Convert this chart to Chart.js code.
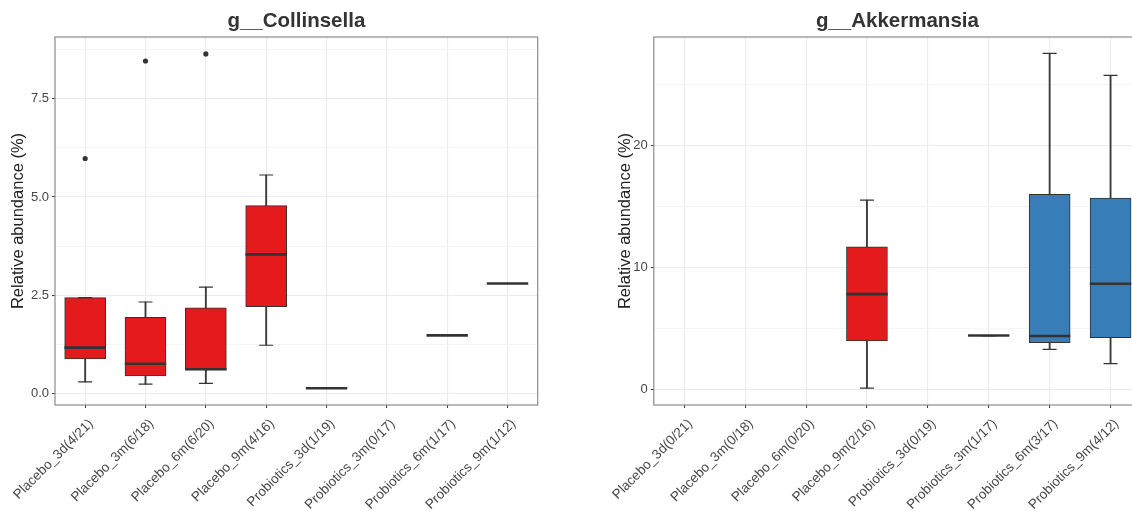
<!DOCTYPE html>
<html>
<head>
<meta charset="utf-8">
<script src="https://cdn.jsdelivr.net/npm/chart.js@4.4.0/dist/chart.umd.min.js"></script>
<style>
  html, body { margin: 0; padding: 0; background: #fff; overflow: hidden; }
  body { width: 1132px; height: 511px; position: relative; }
  .panel { position: absolute; top: 0; height: 511px; }
  #leftPanel { left: 0; width: 566px; }
  #rightPanel { left: 566px; width: 600px; }
</style>
</head>
<body>
<div class="panel" id="leftPanel"><canvas id="collinsellaChart"></canvas></div>
<div class="panel" id="rightPanel"><canvas id="akkermansiaChart"></canvas></div>
<script>
// g__Collinsella
const collinsellaLabels = ['Placebo_3d(4/21)', 'Placebo_3m(6/18)', 'Placebo_6m(6/20)', 'Placebo_9m(4/16)',
  'Probiotics_3d(1/19)', 'Probiotics_3m(0/17)', 'Probiotics_6m(1/17)', 'Probiotics_9m(1/12)'];
const collinsellaLow = [0.30, 0.24, 0.26, 1.23, 0.135, null, 1.48, 2.80];
const collinsellaQ1 = [0.88, 0.45, 0.60, 2.21, 0.135, null, 1.48, 2.80];
const collinsellaMedian = [1.17, 0.76, 0.62, 3.54, 0.135, null, 1.48, 2.80];
const collinsellaQ3 = [2.44, 1.94, 2.18, 4.78, 0.135, null, 1.48, 2.80];
const collinsellaHigh = [2.44, 2.33, 2.71, 5.56, 0.135, null, 1.48, 2.80];
const collinsellaOutliers = [5.98, 8.46, 8.64, null, null, null, null, null];

// g__Akkermansia
const akkermansiaLabels = ['Placebo_3d(0/21)', 'Placebo_3m(0/18)', 'Placebo_6m(0/20)', 'Placebo_9m(2/16)',
  'Probiotics_3d(0/19)', 'Probiotics_3m(1/17)', 'Probiotics_6m(3/17)', 'Probiotics_9m(4/12)'];
const akkermansiaLow = [null, null, null, 0.08, null, 4.40, 3.27, 2.10];
const akkermansiaQ1 = [null, null, null, 3.95, null, 4.40, 3.82, 4.23];
const akkermansiaMedian = [null, null, null, 7.80, null, 4.40, 4.36, 8.65];
const akkermansiaQ3 = [null, null, null, 11.68, null, 4.40, 15.98, 15.69];
const akkermansiaHigh = [null, null, null, 15.52, null, 4.40, 27.55, 25.75];
const akkermansiaOutliers = [null, null, null, null, null, null, null, null];

Chart.defaults.font.family = '"Liberation Sans", Arial, Helvetica, sans-serif';

// ggplot-style panel border on all four sides
const panelBorder = {
  id: 'panelBorder',
  afterDatasetsDraw(chart) {
    const { ctx, chartArea: a } = chart;
    ctx.save();
    ctx.strokeStyle = '#8c8c8c';
    ctx.lineWidth = 1.2;
    ctx.strokeRect(a.left, a.top, a.right - a.left, a.bottom - a.top);
    ctx.restore();
  }
};

function groupColor(label) {
  return label.startsWith('Placebo') ? '#E41A1C' : '#377EB8';
}

function boxChart(canvasId, title, labels, low, q1, median, q3, high, outliers, look) {
  const isMajor = v => Math.abs(v / look.major - Math.round(v / look.major)) < 1e-6;
  const capStyle = { type: 'line', showLine: false, pointStyle: 'line', pointRadius: 7, pointHoverRadius: 7,
    pointBorderWidth: 1.2, pointBorderColor: '#333', order: 3 };

  return new Chart(document.getElementById(canvasId), {
    type: 'bar',
    data: {
      labels: labels,
      datasets: [
        { // whiskers
          data: low.map((v, i) => (v == null || v === high[i]) ? null : [v, high[i]]),
          backgroundColor: '#3a3a3a', barThickness: 1.2, grouped: false, order: 5
        },
        { // boxes
          data: q1.map((v, i) => (v == null || v === q3[i]) ? null : [v, q3[i]]),
          backgroundColor: labels.map(groupColor), borderColor: '#333', borderWidth: 1,
          borderSkipped: false, barThickness: 41, grouped: false, order: 4
        },
        Object.assign({ data: low }, capStyle),
        Object.assign({ data: high }, capStyle),
        { // medians
          type: 'line', data: median, showLine: false, pointStyle: 'line', pointRadius: 20.7, pointHoverRadius: 20.7,
          pointBorderWidth: 2.6, pointBorderColor: '#333', order: 1
        },
        { // outliers
          type: 'line', data: outliers, showLine: false, pointStyle: 'circle', pointRadius: 2.6, pointHoverRadius: 2.6,
          pointBackgroundColor: '#333', pointBorderWidth: 0, order: 0
        }
      ]
    },
    options: {
      responsive: true,
      maintainAspectRatio: false,
      animation: false,
      events: [],
      layout: { padding: { right: look.padRight } },
      plugins: {
        legend: { display: false },
        tooltip: { enabled: false },
        title: {
          display: true, text: title, fullSize: false, color: '#333',
          font: { size: 20.5, weight: 'bold' }, padding: { top: 9.4, bottom: 3 }
        }
      },
      scales: {
        x: {
          offset: true,
          afterFit: s => { s.height = 106; s.paddingLeft = 0; s.paddingRight = 0; },
          border: { display: false },
          grid: { offset: false, color: '#ebebeb', lineWidth: 1.1, tickLength: 3, tickColor: '#333', tickWidth: 1 },
          ticks: { autoSkip: false, minRotation: 45, maxRotation: 45, padding: 8, labelOffset: 6,
            color: '#474747', font: { size: 13.5 } }
        },
        y: {
          min: look.yMin,
          max: look.yMax,
          afterFit: s => { s.width = look.axisWidth; },
          border: { display: false },
          grid: {
            color: c => (c.tick && isMajor(c.tick.value)) ? '#ebebeb' : '#f3f3f3',
            lineWidth: c => (c.tick && isMajor(c.tick.value)) ? 1.1 : 0.8,
            tickLength: 3,
            tickWidth: 1,
            tickColor: c => (c.tick && isMajor(c.tick.value)) ? '#333' : 'rgba(0,0,0,0)'
          },
          ticks: {
            stepSize: look.step, includeBounds: false, autoSkip: false, padding: 3,
            color: '#474747', font: { size: 13 },
            callback: v => isMajor(v) ? v.toFixed(look.decimals) : ''
          },
          title: {
            display: true, text: 'Relative abundance (%)', color: '#222',
            font: { size: 16.5 }, padding: { top: look.titlePad, bottom: 0 }
          }
        }
      }
    },
    plugins: [panelBorder]
  });
}

document.addEventListener('DOMContentLoaded', function() {
  boxChart('collinsellaChart', 'g__Collinsella', collinsellaLabels, collinsellaLow, collinsellaQ1,
    collinsellaMedian, collinsellaQ3, collinsellaHigh, collinsellaOutliers,
    { yMin: -0.29, yMax: 9.07, step: 1.25, major: 2.5, decimals: 1, axisWidth: 55, titlePad: 8.4, padRight: 28.3 });

  boxChart('akkermansiaChart', 'g__Akkermansia', akkermansiaLabels, akkermansiaLow, akkermansiaQ1,
    akkermansiaMedian, akkermansiaQ3, akkermansiaHigh, akkermansiaOutliers,
    { yMin: -1.3, yMax: 28.9, step: 5, major: 10, decimals: 0, axisWidth: 87.8, titlePad: 49.1, padRight: 25 });
});
</script>
</body>
</html>
